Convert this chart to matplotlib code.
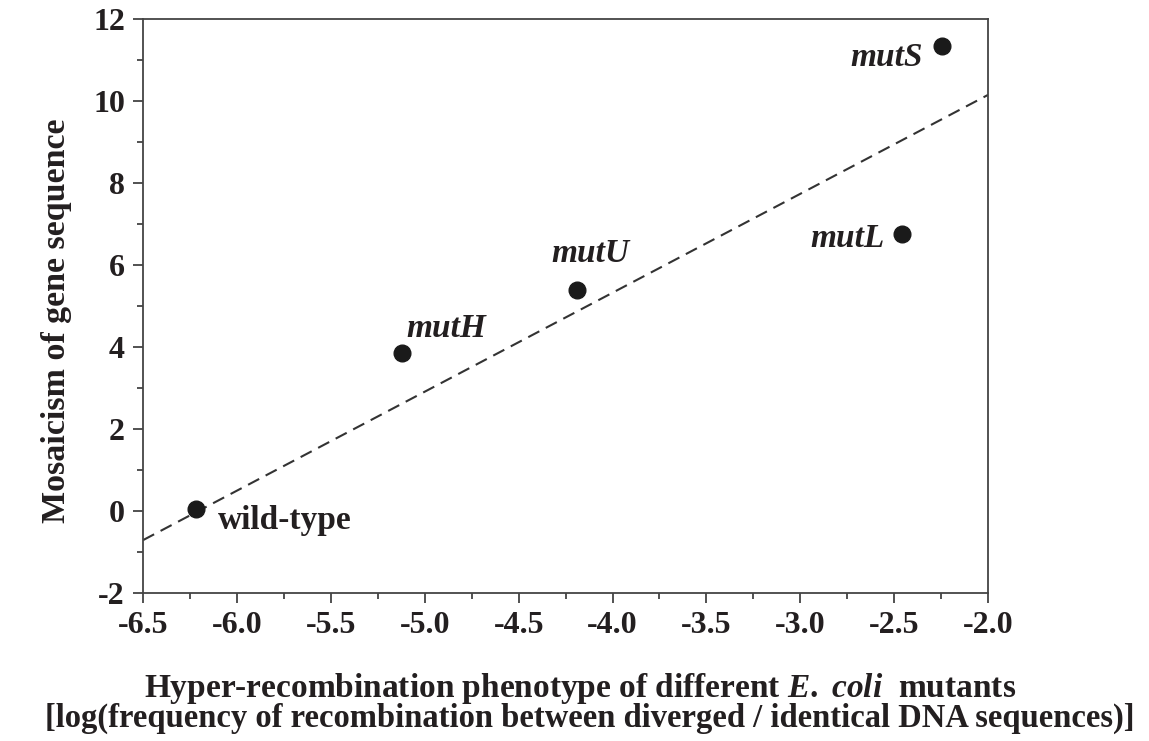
import matplotlib
matplotlib.use('Agg')
from matplotlib import pyplot as plt
from matplotlib.ticker import MultipleLocator

# data
strains = ['wild-type', 'mutH', 'mutU', 'mutL', 'mutS']
recomb = [-6.22, -5.12, -4.19, -2.46, -2.245]
mosaic = [0.05, 3.85, 5.39, 6.75, 11.34]

# dashed trend line (end points)
fit_x = [-6.5, -2.0]
fit_y = [-0.71, 10.15]

xticks = [-6.5, -6.0, -5.5, -5.0, -4.5, -4.0, -3.5, -3.0, -2.5, -2.0]
yticks = [-2, 0, 2, 4, 6, 8, 10, 12]

ink = '#231f20'
plt.rcParams['font.family'] = 'Liberation Serif'
plt.rcParams['font.weight'] = 'bold'
plt.rcParams['axes.unicode_minus'] = False
plt.rcParams['mathtext.fontset'] = 'custom'
plt.rcParams['mathtext.rm'] = 'Liberation Serif:bold'
plt.rcParams['mathtext.it'] = 'Liberation Serif:italic:bold'

fig = plt.figure(figsize=(11.49, 7.41), dpi=100)
ax = fig.add_axes([0.1245, 0.1997, 0.7355, 0.7747])

ax.plot(fit_x, fit_y, ls=(0, (6, 3.5)), lw=1.5, c='#333333')
ax.plot(recomb, mosaic, 'o', ms=12, c='#1a1a1a', zorder=3)

# point labels: (offset in points, alignment, italic)
offsets = {
    'wild-type': ((16, -8), 'left', 'normal'),
    'mutH': ((3, 18), 'left', 'italic'),
    'mutU': ((10, 26), 'center', 'italic'),
    'mutL': ((-12, -3), 'right', 'italic'),
    'mutS': ((-14, -8), 'right', 'italic'),
}
for name, x, y in zip(strains, recomb, mosaic):
    off, ha, st = offsets[name]
    ax.annotate(name, (x, y), xytext=off, textcoords='offset points',
                ha=ha, va='center', fontsize=24, style=st, color=ink)

ax.set_xlim(-6.5, -2.0)
ax.set_ylim(-2, 12)
ax.set_xticks(xticks)
ax.set_xticklabels(['%.1f' % t for t in xticks])
ax.set_yticks(yticks)
ax.xaxis.set_minor_locator(MultipleLocator(0.25))
ax.yaxis.set_minor_locator(MultipleLocator(1))
ax.tick_params(which='major', direction='out', length=7, width=1.2,
               labelsize=23, colors='#333333', labelcolor=ink, pad=6)
ax.tick_params(which='minor', direction='out', length=4, width=1.2,
               colors='#333333')
for sp in ax.spines.values():
    sp.set_linewidth(1.3)
    sp.set_color('#444444')

fig.text(0.0496, 0.567, 'Mosaicism of gene sequence', rotation=90,
         ha='center', va='center', fontsize=24.5, color=ink)
fig.text(0.505, 0.0715,
         r'Hyper-recombination phenotype of different $\mathit{E.}$ $\mathit{coli}$  mutants',
         ha='center', va='center', fontsize=24, color=ink)
fig.text(0.5135, 0.031,
         '[log(frequency of recombination between diverged / identical DNA sequences)]',
         ha='center', va='center', fontsize=23.5, color=ink)

fig.savefig('out.png', dpi=100, facecolor='white')
